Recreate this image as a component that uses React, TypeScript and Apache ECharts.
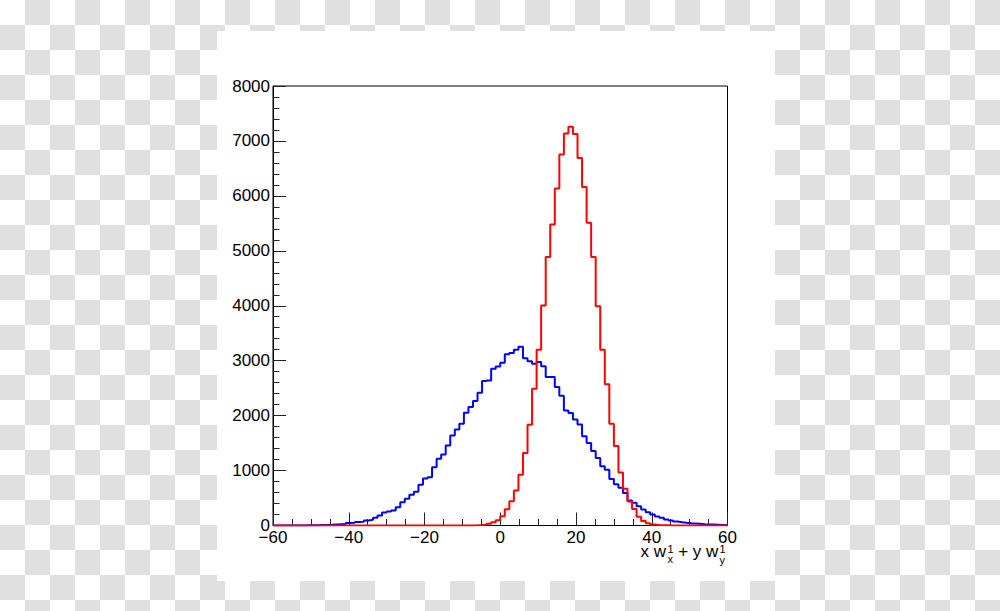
import React, { useEffect, useRef } from "react";
import * as echarts from "echarts";

// Histogram binning (100 bins from -60 to 60)
const BIN_START = -60;
const BIN_WIDTH = 1.2;

// Axis ranges / ticks
const X_MIN = -60;
const X_MAX = 60;
const X_STEP = 20;
const Y_MIN = 0;
const Y_MAX = 8000;
const Y_STEP = 1000;

// Bin contents
const redCounts = [
  0, 0, 0, 0, 0, 0, 0, 0, 0, 0,
  0, 0, 0, 0, 0, 0, 0, 0, 0, 0,
  0, 0, 0, 0, 0, 0, 0, 0, 0, 0,
  0, 0, 0, 0, 0, 0, 0, 0, 0, 0,
  0, 0, 0, 2, 4, 8, 16, 32, 58, 95,
  170, 295, 442, 638, 925, 1318, 1832, 2490, 3200, 4005,
  4888, 5477, 6135, 6752, 7135, 7260, 7125, 6690, 6160, 5513,
  4888, 3990, 3200, 2570, 1852, 1445, 965, 670, 435, 300,
  160, 80, 42, 20, 10, 5, 3, 1, 0, 0,
  0, 0, 0, 0, 0, 0, 0, 0, 0, 0,
];

const blueCounts = [
  0, 0, 1, 1, 1, 2, 2, 3, 4, 5,
  8, 10, 13, 20, 24, 28, 45, 50, 64, 70,
  91, 103, 140, 182, 237, 255, 273, 333, 425, 486,
  560, 615, 740, 855, 880, 1062, 1215, 1293, 1457, 1639,
  1749, 1852, 2052, 2155, 2264, 2417, 2628, 2641, 2854, 2896,
  2963, 3115, 3139, 3200, 3255, 3045, 2990, 2945, 2975, 2900,
  2702, 2702, 2520, 2360, 2095, 2046, 1928, 1837, 1624, 1500,
  1357, 1230, 1080, 1015, 845, 750, 685, 590, 455, 415,
  352, 291, 243, 200, 164, 140, 109, 91, 73, 61,
  49, 42, 36, 30, 24, 20, 18, 14, 10, 8,
];

function stepData(counts: number[]): [number, number][] {
  const pts: [number, number][] = counts.map((v, i) => [
    +(BIN_START + i * BIN_WIDTH).toFixed(4),
    v,
  ]);
  pts.push([+(BIN_START + counts.length * BIN_WIDTH).toFixed(4), counts[counts.length - 1]]);
  return pts;
}

const FONT = "'Liberation Sans', Arial, Helvetica, sans-serif";
const minus = (v: number) => String(v).replace("-", "\u2212");

export default function App() {
  const ref = useRef<HTMLDivElement>(null);

  useEffect(() => {
    if (!ref.current) return;
    const chart = echarts.init(ref.current, undefined, { renderer: "svg" });
    const titleY = 551;
    const main = { fontSize: 17, fontFamily: FONT, fill: "#000", align: "left", verticalAlign: "middle", lineHeight: 14 };
    const small = { fontSize: 11, fontFamily: FONT, fill: "#000", align: "left", verticalAlign: "middle", lineHeight: 9 };
    chart.setOption({
      animation: false,
      backgroundColor: "transparent",
      grid: {
        left: 273,
        right: 272.5,
        top: 86,
        bottom: 85.5,
        show: true,
        borderColor: "#000",
        borderWidth: 1,
        backgroundColor: "transparent",
      },
      xAxis: {
        type: "value",
        min: X_MIN,
        max: X_MAX,
        interval: X_STEP,
        axisLine: { show: true, onZero: false, lineStyle: { color: "#000", width: 1 } },
        axisTick: { show: true, inside: true, length: 13, lineStyle: { color: "#222" } },
        minorTick: { show: true, splitNumber: 4, length: 6.5, lineStyle: { color: "#222" } },
        splitLine: { show: false },
        axisLabel: {
          show: true,
          margin: 6,
          lineHeight: 11,
          color: "#000",
          fontSize: 17,
          fontFamily: FONT,
          showMinLabel: true,
          showMaxLabel: true,
          formatter: (v: number) => minus(v),
        },
      },
      yAxis: {
        type: "value",
        min: Y_MIN,
        max: Y_MAX,
        interval: Y_STEP,
        axisLine: { show: true, onZero: false, lineStyle: { color: "#000", width: 1 } },
        axisTick: { show: true, inside: true, length: 13, lineStyle: { color: "#222" } },
        minorTick: { show: true, splitNumber: 5, length: 6.5, lineStyle: { color: "#222" } },
        splitLine: { show: false },
        axisLabel: {
          show: true,
          margin: 3,
          lineHeight: 10,
          color: "#000",
          fontSize: 17,
          fontFamily: FONT,
          showMinLabel: true,
          showMaxLabel: true,
          formatter: (v: number) => String(v),
        },
      },
      series: [
        {
          name: "blue",
          type: "line",
          step: "end",
          data: stepData(blueCounts),
          showSymbol: false,
          symbol: "none",
          lineStyle: { color: "#0000ff", width: 2 },
          z: 2,
        },
        {
          name: "red",
          type: "line",
          step: "end",
          data: stepData(redCounts),
          showSymbol: false,
          symbol: "none",
          lineStyle: { color: "#ff0000", width: 2 },
          z: 3,
        },
      ],
      graphic: [
        { type: "text", x: 640.5, y: titleY, style: { ...main, text: "x w" } },
        { type: "text", x: 667.5, y: 548.5, style: { ...small, text: "1" } },
        { type: "text", x: 667.5, y: 559, style: { ...small, text: "x" } },
        { type: "text", x: 673.5, y: titleY, style: { ...main, text: " + y w" } },
        { type: "text", x: 719.5, y: 548.5, style: { ...small, text: "1" } },
        { type: "text", x: 719.5, y: 560, style: { ...small, text: "y" } },
      ],
    });
    return () => chart.dispose();
  }, []);

  return (
    <div
      style={{
        position: "fixed",
        left: 0,
        top: 0,
        width: 1000,
        height: 611,
        background: "repeating-conic-gradient(#e0e0e0 0 25%, #ffffff 0 50%) 0 0 / 50px 50px",
        overflow: "hidden",
      }}
    >
      <div
        style={{
          position: "absolute",
          left: 217,
          top: 31,
          width: 558,
          height: 550,
          background: "#ffffff",
        }}
      />
      <div
        ref={ref}
        style={{ position: "absolute", left: 0, top: 0, width: 1000, height: 611 }}
      />
    </div>
  );
}
